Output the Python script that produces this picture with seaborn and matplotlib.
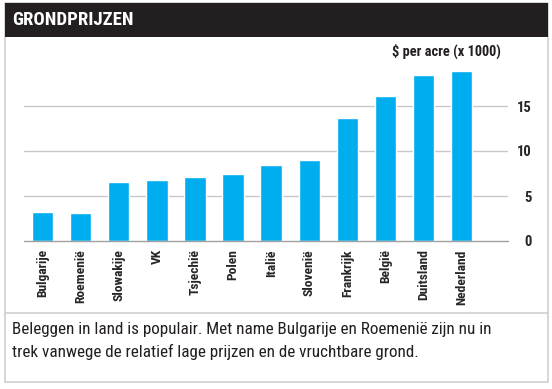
import seaborn as sns
import pandas as pd
import matplotlib.pyplot as plt
from matplotlib.patches import Rectangle

# Grondprijzen per land, $ per acre (x 1000)
landen = ['Bulgarije', 'Roemenië', 'Slowakije', 'VK', 'Tsjechië', 'Polen',
          'Italië', 'Slovenië', 'Frankrijk', 'België', 'Duitsland', 'Nederland']
prijzen = [3.2, 3.1, 6.6, 6.8, 7.1, 7.5, 8.4, 9.0, 13.7, 16.1, 18.5, 18.9]
ticks_y = [0, 5, 10, 15]

df = pd.DataFrame({'land': landen, 'prijs': prijzen})

sns.set_style('white')
plt.rcParams['font.family'] = ['Roboto Condensed', 'Liberation Sans Narrow', 'DejaVu Sans']
plt.rcParams['font.stretch'] = 'condensed'

W, H = 552, 389
fig = plt.figure(figsize=(W / 100, H / 100), dpi=100)

def fx(px):
    return px / W

def fy(py):
    return 1 - py / H

# omkadering en zwarte kop
fig.patches.append(Rectangle((fx(5), fy(382)), fx(543), fy(3) - fy(382),
                             transform=fig.transFigure, facecolor='none', edgecolor='#cfcfcf', lw=1.2))
fig.patches.append(Rectangle((fx(5), fy(37)), fx(543), fy(3) - fy(37),
                             transform=fig.transFigure, facecolor='#231f20', edgecolor='none'))
fig.lines.append(plt.Line2D([fx(5), fx(548)], [fy(313), fy(313)], transform=fig.transFigure,
                            color='#cfcfcf', lw=1.2))

fig.text(fx(12), fy(20), 'GRONDPRIJZEN', color='white', fontsize=13.5, fontweight='bold',
         va='center', ha='left')

ax = fig.add_axes([fx(24), fy(241), fx(508) - fx(24), fy(61) - fy(241)])
sns.barplot(data=df, x='land', y='prijs', color='#00aeef', saturation=1, width=0.56, ax=ax)

ax.set_xlim(-0.49, 12.22)
ax.set_ylim(0, 20)
ax.set_yticks(ticks_y)
ax.yaxis.tick_right()
ax.tick_params(axis='y', length=0, pad=17, labelsize=10.5)
for lbl in ax.get_yticklabels():
    lbl.set_fontweight('bold')
    lbl.set_ha('right')
ax.tick_params(axis='x', length=0, pad=6, labelsize=9.7)
ax.set_xticks(range(len(landen)))
ax.set_xticklabels(landen, rotation=90, fontweight='bold', va='top')
ax.set_xlabel('')
ax.set_ylabel('')
for s in ax.spines.values():
    s.set_visible(False)
for t in ticks_y[1:]:
    ax.axhline(t, color='#c8c8c8', lw=1, zorder=0)
ax.axhline(0, color='#a0a0a0', lw=1, zorder=3, clip_on=False)

fig.text(fx(392), fy(51), '$ per acre (x 1000)', fontsize=10.4, fontweight='bold',
         va='center', ha='left', color='#231f20')

fig.text(fx(12), fy(341), 'Beleggen in land is populair. Met name Bulgarije en Roemenië zijn nu in\n'
         'trek vanwege de relatief lage prijzen en de vruchtbare grond.',
         fontsize=12.3, va='center', ha='left', color='#231f20', linespacing=1.52)

fig.savefig('out.png', dpi=100)
